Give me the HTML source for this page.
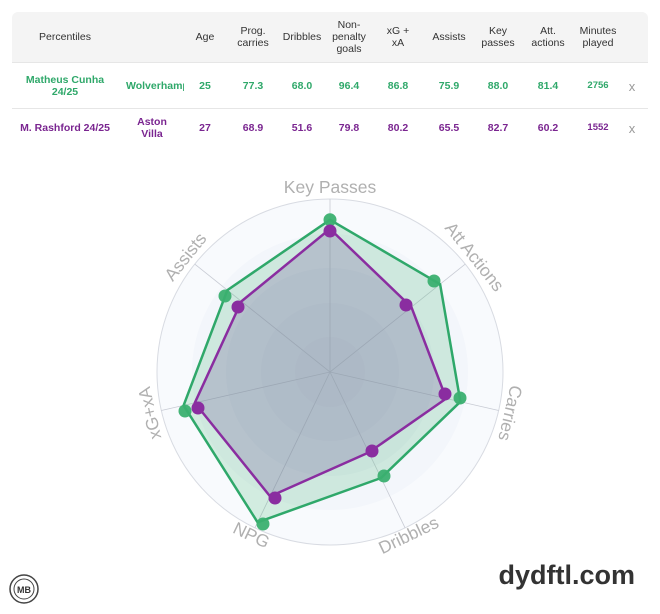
<!DOCTYPE html>
<html><head><meta charset="utf-8"><style>
body{margin:0;background:#fff;width:660px;height:614px;overflow:hidden;font-family:"Liberation Sans",sans-serif;position:relative}
.t{position:absolute;left:12px;top:12px;width:636px}
.hdr{position:absolute;left:0;top:0;width:636px;height:50px;background:#f4f4f4;border-radius:6px 6px 0 0}
.c{position:absolute;transform:translate(-50%,-50%);text-align:center;font-size:10.5px;line-height:12px;white-space:nowrap}
.h{color:#333}
.g{color:#2fa86a;font-weight:bold}
.p{color:#7a2590;font-weight:bold}
.x{color:#999;font-size:13px}
.line{position:absolute;left:0;width:636px;height:1px;background:#e6e6e6}
</style></head><body>
<div class="t">
<div class="hdr"></div>
<div class="line" style="top:50px"></div>
<div class="line" style="top:96px"></div>
<div class="c h" style="left:53px;top:25px">Percentiles</div>
<div class="c h" style="left:193px;top:25px">Age</div>
<div class="c h" style="left:241px;top:25px">Prog.<br>carries</div>
<div class="c h" style="left:290px;top:25px">Dribbles</div>
<div class="c h" style="left:337px;top:25px">Non-<br>penalty<br>goals</div>
<div class="c h" style="left:386px;top:25px">xG +<br>xA</div>
<div class="c h" style="left:437px;top:25px">Assists</div>
<div class="c h" style="left:486px;top:25px">Key<br>passes</div>
<div class="c h" style="left:536px;top:25px">Att.<br>actions</div>
<div class="c h" style="left:586px;top:25px">Minutes<br>played</div>

<div class="c g" style="left:53px;top:74px">Matheus Cunha<br>24/25</div>
<div class="c g" style="left:143px;top:74px;width:58px;overflow:hidden;transform:translate(-50%,-50%)">Wolverhampton</div>
<div class="c g" style="left:193px;top:74px">25</div>
<div class="c g" style="left:241px;top:74px">77.3</div>
<div class="c g" style="left:290px;top:74px">68.0</div>
<div class="c g" style="left:337px;top:74px">96.4</div>
<div class="c g" style="left:386px;top:74px">86.8</div>
<div class="c g" style="left:437px;top:74px">75.9</div>
<div class="c g" style="left:486px;top:74px">88.0</div>
<div class="c g" style="left:536px;top:74px">81.4</div>
<div class="c g" style="left:586px;top:74px;font-size:9.5px">2756</div>
<div class="c x" style="left:620px;top:75px">x</div>

<div class="c p" style="left:53px;top:116px">M. Rashford 24/25</div>
<div class="c p" style="left:140px;top:116px">Aston<br>Villa</div>
<div class="c p" style="left:193px;top:116px">27</div>
<div class="c p" style="left:241px;top:116px">68.9</div>
<div class="c p" style="left:290px;top:116px">51.6</div>
<div class="c p" style="left:337px;top:116px">79.8</div>
<div class="c p" style="left:386px;top:116px">80.2</div>
<div class="c p" style="left:437px;top:116px">65.5</div>
<div class="c p" style="left:486px;top:116px">82.7</div>
<div class="c p" style="left:536px;top:116px">60.2</div>
<div class="c p" style="left:586px;top:116px;font-size:9.5px">1552</div>
<div class="c x" style="left:620px;top:117px">x</div>
</div>

<svg width="660" height="614" style="position:absolute;left:0;top:0">
<circle cx="330" cy="372" r="173" fill="#f8fafd" stroke="#d8dbe2" stroke-width="1"/>
<circle cx="330" cy="372" r="138" fill="#f3f6fb"/>
<circle cx="330" cy="372" r="104" fill="#edf0f7"/>
<circle cx="330" cy="372" r="69" fill="#e7ebf3"/>
<circle cx="330" cy="372" r="35" fill="#e4e8f1"/>
<g stroke="#c8cbd4" stroke-width="0.8">
<line x1="330" y1="372" x2="330" y2="199"/>
<line x1="330" y1="372" x2="465.3" y2="264.1"/>
<line x1="330" y1="372" x2="498.7" y2="410.5"/>
<line x1="330" y1="372" x2="405.1" y2="527.9"/>
<line x1="330" y1="372" x2="254.9" y2="527.9"/>
<line x1="330" y1="372" x2="161.3" y2="410.5"/>
<line x1="330" y1="372" x2="194.7" y2="264.1"/>
</g>
<polygon points="330,219.8 440.1,284.2 460.4,401.7 381,478 257.6,522.3 183.6,405.4 227.4,290.1" fill="rgba(60,180,110,0.2)" stroke="#2fa86a" stroke-width="2.5" stroke-linejoin="round"/>
<polygon points="330,228.9 411.4,307.1 446.2,398.5 368.7,452.5 270.1,496.4 194.8,402.9 241.4,301.4" fill="rgba(110,80,150,0.25)" stroke="#8a2da0" stroke-width="2.5" stroke-linejoin="round"/>
<g fill="#3bb070" opacity="0.95">
<circle cx="330" cy="219.8" r="6.5"/><circle cx="434" cy="281" r="6.5"/><circle cx="460" cy="398" r="6.5"/><circle cx="384" cy="476" r="6.5"/><circle cx="263" cy="524" r="6.5"/><circle cx="185" cy="411" r="6.5"/><circle cx="225" cy="296" r="6.5"/>
</g>
<g fill="#8a2da0">
<circle cx="330" cy="231" r="6.5"/><circle cx="406" cy="305" r="6.5"/><circle cx="445" cy="394" r="6.5"/><circle cx="372" cy="451" r="6.5"/><circle cx="275" cy="498" r="6.5"/><circle cx="198" cy="408" r="6.5"/><circle cx="238" cy="307" r="6.5"/>
</g>
<g font-family="Liberation Sans, sans-serif" font-size="17.5" fill="#b0b0b0" text-anchor="middle">
<text x="330" y="193" transform="rotate(0 330 372)">Key Passes</text>
<text x="330" y="193" transform="rotate(51.43 330 372)">Att Actions</text>
<text x="330" y="193" transform="rotate(102.86 330 372)">Carries</text>
<text x="330" y="559" transform="rotate(-25.71 330 372)">Dribbles</text>
<text x="330" y="559" transform="rotate(25.71 330 372)">NPG</text>
<text x="330" y="193" transform="rotate(-102.86 330 372)">xG+xA</text>
<text x="330" y="193" transform="rotate(-51.43 330 372)">Assists</text>
</g>
<circle cx="24" cy="589" r="14" fill="#fff" stroke="#444" stroke-width="1.5"/>
<circle cx="24" cy="589" r="10" fill="none" stroke="#444" stroke-width="1"/>
<text x="24" y="593" font-family="Liberation Sans, sans-serif" font-size="9" font-weight="bold" fill="#333" text-anchor="middle">MB</text>
<text x="635" y="584" font-family="Liberation Sans, sans-serif" font-size="27" font-weight="bold" fill="#333" text-anchor="end">dydftl.com</text>
</svg>
</body></html>
